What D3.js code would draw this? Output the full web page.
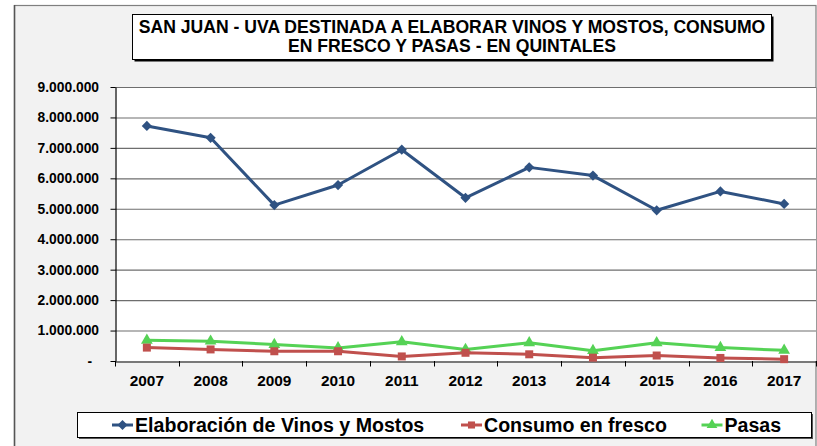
<!DOCTYPE html>
<html>
<head>
<meta charset="utf-8">
<script src="https://cdn.jsdelivr.net/npm/d3@7"></script>
<style>
  html, body { margin: 0; padding: 0; background: #ffffff; }
  svg { display: block; font-family: "Liberation Sans", Arial, sans-serif; }
</style>
</head>
<body>
<svg id="chart" width="817" height="446"></svg>
<script>
const years = ["2007","2008","2009","2010","2011","2012","2013","2014","2015","2016","2017"];
const vinosMostos = [7720000, 7330000, 5120000, 5780000, 6940000, 5360000, 6360000, 6090000, 4950000, 5570000, 5160000];
const consumoFresco = [440000, 380000, 320000, 320000, 150000, 270000, 220000, 110000, 180000, 100000, 60000];
const pasas = [680000, 650000, 540000, 430000, 630000, 380000, 600000, 340000, 600000, 440000, 350000];
const yTicks = [0, 1000000, 2000000, 3000000, 4000000, 5000000, 6000000, 7000000, 8000000, 9000000];
const titleLines = ["SAN JUAN - UVA DESTINADA A ELABORAR VINOS Y MOSTOS, CONSUMO", "EN FRESCO Y PASAS - EN QUINTALES"];
const seriesNames = ["Elaboración de Vinos y Mostos", "Consumo en fresco", "Pasas"];

const svg = d3.select("#chart");
const plot = { left: 115, right: 816, top: 87, bottom: 361 };

// outer chart area
svg.append("rect").attr("x", 14.5).attr("y", 5.5).attr("width", 801.5).attr("height", 450)
  .attr("fill", "#f2f2f2").attr("stroke", "#7f7f7f").attr("stroke-width", 1.2);
svg.append("line").attr("x1", 14.5).attr("x2", 14.5).attr("y1", 5).attr("y2", 446)
  .attr("stroke", "#555").attr("stroke-width", 1.5);

// title box
const tb = { x: 132.5, y: 14.5, w: 639, h: 45 };
svg.append("rect").attr("x", tb.x + 2).attr("y", tb.y + 2).attr("width", tb.w).attr("height", tb.h).attr("fill", "#000");
svg.append("rect").attr("x", tb.x).attr("y", tb.y).attr("width", tb.w).attr("height", tb.h)
  .attr("fill", "#fff").attr("stroke", "#000").attr("stroke-width", 1);
svg.append("g").selectAll("text").data(titleLines).join("text")
  .attr("x", 452).attr("y", (d, i) => 33.3 + i * 19)
  .attr("text-anchor", "middle").attr("font-weight", "bold").attr("font-size", "17.6px")
  .attr("fill", "#000").text(d => d);

// scales
const x = d3.scaleBand().domain(years).range([plot.left, plot.right]).padding(0);
const y = d3.scaleLinear().domain([0, 9000000]).range([plot.bottom, plot.top]);

// plot area
svg.append("rect").attr("x", plot.left).attr("y", plot.top)
  .attr("width", plot.right - plot.left).attr("height", plot.bottom - plot.top).attr("fill", "#fff");
svg.append("line").attr("x1", plot.right + 0.5).attr("x2", plot.right + 0.5)
  .attr("y1", plot.top).attr("y2", plot.bottom).attr("stroke", "#9a9a9a");

// gridlines
const grid = svg.append("g").attr("transform", `translate(${plot.left},0)`)
  .call(d3.axisLeft(y).tickValues(yTicks.slice(1)).tickSize(-(plot.right - plot.left)).tickFormat(""));
grid.select(".domain").remove();
grid.selectAll(".tick line").attr("stroke", "#6e6e6e").attr("stroke-width", 1.1);

// y axis
const fmt = v => v === 0 ? "-" : d3.format(",")(v).replace(/,/g, ".");
const yAxis = svg.append("g").attr("transform", `translate(${plot.left + 0.5},0)`)
  .call(d3.axisLeft(y).tickValues(yTicks).tickSize(5).tickPadding(11.5).tickSizeOuter(0).tickFormat(fmt));
yAxis.select(".domain").attr("stroke", "#000").attr("stroke-width", 1.2);
yAxis.selectAll(".tick line").attr("stroke", "#000");
yAxis.selectAll(".tick text").attr("font-size", "13.8px").attr("font-weight", "bold")
  .attr("fill", "#000").attr("font-family", "Liberation Sans, Arial, sans-serif")
  .attr("dx", d => d === 0 ? -7 : 0);

// x axis
const xAxis = svg.append("g").attr("transform", `translate(0,${plot.bottom + 0.5})`)
  .call(d3.axisBottom(x).tickSize(0).tickPadding(13.4).tickSizeOuter(0));
xAxis.select(".domain").attr("stroke", "#000").attr("stroke-width", 1.2);
xAxis.selectAll(".tick text").attr("font-size", "15.4px").attr("font-weight", "bold")
  .attr("fill", "#000").attr("font-family", "Liberation Sans, Arial, sans-serif");
const boundaries = years.map(d => x(d)).concat([x(years[years.length - 1]) + x.bandwidth()]);
svg.append("g").selectAll("line").data(boundaries).join("line")
  .attr("x1", d => Math.round(d) + 0.5).attr("x2", d => Math.round(d) + 0.5)
  .attr("y1", plot.bottom).attr("y2", plot.bottom + 5.5).attr("stroke", "#000");

// series
const cx = d => x(d) + x.bandwidth() / 2;
const series = [
  { name: seriesNames[0], values: vinosMostos, color: "#2f5282", symbol: d3.symbolSquare, size: 52, rot: 45 },
  { name: seriesNames[1], values: consumoFresco, color: "#c0504d", symbol: d3.symbolSquare, size: 64, rot: 0 },
  { name: seriesNames[2], values: pasas, color: "#55d255", symbol: d3.symbolTriangle, size: 60, rot: 0 }
];
const line = d3.line().x((d, i) => cx(years[i])).y(d => y(d));
series.slice().reverse().forEach(s => {
  svg.append("path").datum(s.values).attr("d", line)
    .attr("fill", "none").attr("stroke", s.color).attr("stroke-width", 3).attr("stroke-linejoin", "round");
  svg.append("g").selectAll("path").data(s.values).join("path")
    .attr("transform", (d, i) => `translate(${cx(years[i])},${y(d)}) rotate(${s.rot})`)
    .attr("d", d3.symbol().type(s.symbol).size(s.size)).attr("fill", s.color);
});

// legend
const lb = { x: 77.5, y: 412.5, w: 734, h: 25 };
svg.append("rect").attr("x", lb.x + 1.5).attr("y", lb.y + 1.5).attr("width", lb.w).attr("height", lb.h).attr("fill", "#555");
svg.append("rect").attr("x", lb.x).attr("y", lb.y).attr("width", lb.w).attr("height", lb.h)
  .attr("fill", "#fff").attr("stroke", "#000").attr("stroke-width", 1);
const legendX = [112, 461, 701.5];
const lg = svg.append("g").selectAll("g").data(series).join("g")
  .attr("transform", (d, i) => `translate(${legendX[i]},425)`);
lg.append("line").attr("x1", 0).attr("x2", 21).attr("y1", 0).attr("y2", 0)
  .attr("stroke", d => d.color).attr("stroke-width", 3);
lg.append("path").attr("transform", d => `translate(10.5,0) rotate(${d.rot})`)
  .attr("d", d => d3.symbol().type(d.symbol).size(50)()).attr("fill", d => d.color);
lg.append("text").attr("x", 23).attr("y", 6.7)
  .attr("font-size", "19.6px").attr("font-weight", "bold").attr("fill", "#000")
  .text(d => d.name);
</script>
</body>
</html>
